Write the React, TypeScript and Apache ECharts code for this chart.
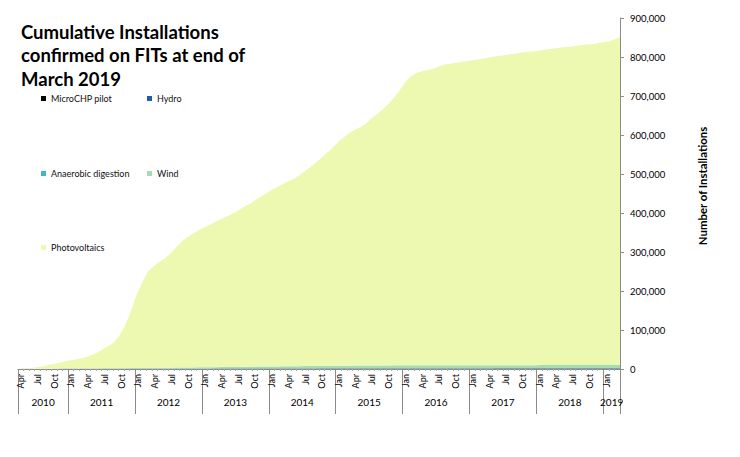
import React, { useEffect, useRef } from 'react';
import * as echarts from 'echarts';

const MONTH_NAMES = ['Jan', 'Feb', 'Mar', 'Apr', 'May', 'Jun', 'Jul', 'Aug', 'Sep', 'Oct', 'Nov', 'Dec'];
const START_YEAR = 2010;
const START_MONTH = 3; // April
const MONTH_COUNT = 108; // Apr 2010 .. Mar 2019

const categories = Array.from({ length: MONTH_COUNT }, (_, i) => {
  const m = START_MONTH + i;
  return `${START_YEAR + Math.floor(m / 12)}-${MONTH_NAMES[m % 12]}`;
});

const years = ['2010', '2011', '2012', '2013', '2014', '2015', '2016', '2017', '2018', '2019'];
const monthsInYear = [9, 12, 12, 12, 12, 12, 12, 12, 12, 3];

const yTicks = [0, 100000, 200000, 300000, 400000, 500000, 600000, 700000, 800000, 900000];

const microCHP = [
  0, 0, 0, 0, 0, 2, 5, 10, 15,
  20, 28, 36, 45, 55, 65, 75, 88, 100, 112, 125, 138,
  150, 160, 170, 180, 190, 200, 210, 218, 226, 234, 242, 250,
  258, 265, 272, 279, 286, 293, 300, 306, 312, 318, 324, 330,
  336, 341, 346, 351, 356, 361, 366, 371, 376, 381, 386, 391,
  396, 400, 404, 408, 412, 416, 420, 424, 428, 432, 436, 440,
  444, 447, 450, 453, 456, 459, 462, 465, 468, 471, 474, 477,
  480, 482, 484, 486, 488, 490, 492, 494, 496, 498, 500, 502,
  504, 505, 506, 507, 508, 509, 510, 511, 512, 513, 514, 515,
  516, 517, 518,
];

const hydro = [
  120, 150, 180, 205, 230, 255, 275, 295, 310,
  330, 345, 360, 380, 395, 410, 430, 445, 465, 480, 500, 520,
  540, 555, 565, 575, 585, 600, 610, 620, 630, 645, 655, 665,
  675, 685, 695, 705, 715, 725, 735, 745, 755, 765, 775, 785,
  795, 805, 815, 825, 835, 845, 855, 865, 875, 885, 895, 905,
  915, 925, 935, 945, 955, 965, 975, 985, 995, 1005, 1015, 1030,
  1045, 1055, 1060, 1065, 1070, 1075, 1080, 1085, 1090, 1095, 1100, 1105,
  1110, 1112, 1114, 1116, 1118, 1120, 1122, 1124, 1126, 1128, 1130, 1132,
  1134, 1136, 1138, 1140, 1142, 1144, 1146, 1148, 1150, 1152, 1154, 1156,
  1158, 1160, 1162,
];

const anaerobic = [
  5, 8, 12, 15, 18, 22, 26, 30, 34,
  38, 42, 46, 50, 55, 60, 65, 70, 75, 80, 86, 92,
  98, 104, 110, 116, 122, 128, 134, 140, 146, 152, 158, 165,
  172, 180, 188, 196, 204, 212, 220, 228, 236, 244, 252, 260,
  268, 276, 284, 292, 300, 308, 316, 324, 332, 340, 348, 356,
  364, 372, 380, 388, 396, 404, 412, 420, 428, 436, 444, 452,
  460, 464, 468, 472, 476, 480, 484, 488, 492, 496, 500, 504,
  506, 508, 510, 512, 514, 516, 518, 520, 522, 524, 526, 528,
  530, 531, 532, 533, 534, 535, 536, 537, 538, 539, 540, 541,
  542, 543, 544,
];

const wind = [
  150, 200, 260, 320, 380, 440, 500, 560, 620,
  680, 740, 800, 860, 920, 990, 1060, 1130, 1200, 1300, 1420, 1550,
  1700, 1850, 2000, 2120, 2240, 2360, 2480, 2600, 2720, 2840, 2960, 3100,
  3250, 3400, 3550, 3700, 3850, 4000, 4150, 4300, 4450, 4600, 4750, 4900,
  5050, 5200, 5350, 5480, 5600, 5720, 5840, 5960, 6080, 6200, 6320, 6450,
  6580, 6700, 6820, 6940, 7060, 7150, 7230, 7300, 7360, 7420, 7480, 7540,
  7580, 7600, 7620, 7630, 7640, 7650, 7660, 7670, 7680, 7690, 7700, 7710,
  7715, 7720, 7725, 7730, 7735, 7740, 7745, 7750, 7755, 7760, 7765, 7770,
  7772, 7774, 7776, 7778, 7780, 7782, 7784, 7786, 7788, 7790, 7792, 7794,
  7796, 7798, 7800,
];

const photovoltaics = [
  500, 700, 1600, 3000, 5400, 8300, 11200, 14100, 17000,
  19900, 22800, 25800, 28700, 33600, 39500, 48400, 56300, 66200, 83000, 107900, 142700,
  185500, 217300, 245200, 259000, 270900, 278700, 291600, 306400, 321300, 333100, 342000, 350800,
  357600, 364500, 372300, 379100, 385900, 391800, 399600, 409400, 416200, 425100, 434900, 442700,
  451600, 459400, 467200, 475100, 479900, 488800, 500600, 510500, 522300, 534200, 547100, 559900,
  575700, 586600, 597500, 606300, 612200, 622100, 636000, 645900, 658800, 672700, 688600, 708500,
  728500, 742400, 750400, 754400, 757400, 761300, 767300, 771300, 773300, 775200, 778200, 780200,
  782200, 784200, 787200, 789200, 792100, 794100, 796100, 798100, 800100, 802100, 804100, 805100,
  807100, 809100, 811100, 813100, 815000, 816000, 818000, 820000, 822000, 823000, 825000, 828000,
  830000, 835000, 841000,
];

const seriesDefs = [
  { name: 'MicroCHP pilot', data: microCHP, color: '#000000' },
  { name: 'Hydro', data: hydro, color: '#225ea8' },
  { name: 'Anaerobic digestion', data: anaerobic, color: '#41b6c4' },
  { name: 'Wind', data: wind, color: '#a6dbb3' },
  { name: 'Photovoltaics', data: photovoltaics, color: '#edf8b1' },
];

const legendPos = [
  { left: 41, top: 94 },
  { left: 147, top: 94 },
  { left: 41, top: 169 },
  { left: 147, top: 169 },
  { left: 41, top: 243 },
];

const FONT = 'Lato, "Open Sans", sans-serif';
const AXIS_GRAY = '#8c8c8c';

export default function App() {
  const ref = useRef<HTMLDivElement>(null);

  useEffect(() => {
    if (!ref.current) return;
    const chart = echarts.init(ref.current, undefined, { renderer: 'svg' });

    // half-month slots for the year row (boundaryGap false => slot k at k/2 months)
    const slotCount = MONTH_COUNT * 2 + 1;
    const slotKeys = Array.from({ length: slotCount }, (_, k) => 's' + k);
    const yearLabelAt: Record<number, string> = {};
    const boundaryAt: Record<number, boolean> = { [slotCount - 1]: true };
    let start = 0;
    years.forEach((y, i) => {
      yearLabelAt[2 * start + monthsInYear[i]] = y;
      boundaryAt[2 * start] = true;
      start += monthsInYear[i];
    });

    chart.setOption({
      animation: false,
      textStyle: { fontFamily: FONT },
      title: {
        text: 'Cumulative Installations\nconfirmed on FITs at end of\nMarch 2019',
        left: 21,
        top: 20,
        padding: 0,
        textStyle: { fontFamily: FONT, fontSize: 18.5, fontWeight: 'bold', color: '#000', lineHeight: 23.5 },
      },
      legend: seriesDefs.map((s, i) => ({
        data: [s.name],
        left: legendPos[i].left,
        top: legendPos[i].top,
        padding: 0,
        icon: 'rect',
        itemWidth: 5,
        itemHeight: 5,
        selectedMode: false,
        textStyle: { fontFamily: FONT, fontSize: 9, color: '#111' },
      })),
      grid: { left: 18, right: 120, top: 18, bottom: 88, containLabel: false },
      xAxis: [
        {
          type: 'category',
          data: categories,
          boundaryGap: true,
          position: 'bottom',
          axisLine: { show: true, lineStyle: { color: AXIS_GRAY, width: 1 } },
          axisTick: { show: true, interval: 0, length: 2, lineStyle: { color: '#aaa' } },
          axisLabel: {
            interval: 2,
            rotate: 90,
            margin: 5,
            fontSize: 9,
            color: '#000',
            fontFamily: FONT,
            formatter: (v: string) => v.split('-')[1],
          },
          splitLine: { show: false },
        },
        {
          type: 'category',
          data: slotKeys,
          boundaryGap: false,
          position: 'bottom',
          axisLine: { show: false },
          axisTick: {
            show: true,
            length: 45,
            interval: (idx: number) => !!boundaryAt[idx],
            lineStyle: { color: AXIS_GRAY },
          },
          axisLabel: {
            interval: 0,
            margin: 28,
            fontSize: 10,
            color: '#000',
            fontFamily: FONT,
            formatter: (_v: string, idx: number) => yearLabelAt[idx] || '',
          },
          splitLine: { show: false },
        },
        {
          type: 'category',
          data: categories,
          boundaryGap: false,
          show: false,
        },
      ],
      yAxis: {
        type: 'value',
        position: 'right',
        min: 0,
        max: 900000,
        interval: 100000,
        name: 'Number of Installations',
        nameLocation: 'middle',
        nameRotate: 90,
        nameGap: 77,
        nameTextStyle: { fontFamily: FONT, fontSize: 11.4, fontWeight: 'bold', color: '#000', padding: [0, 0, 0, 15] },
        axisLine: { show: true, lineStyle: { color: AXIS_GRAY } },
        axisTick: { show: true, length: 4, lineStyle: { color: AXIS_GRAY } },
        axisLabel: {
          margin: 10,
          fontSize: 9.5,
          color: '#000',
          fontFamily: FONT,
          formatter: (v: number) => (yTicks.includes(v) ? v.toLocaleString('en-US') : ''),
        },
        splitLine: { show: false },
      },
      series: seriesDefs.map((s) => ({
        name: s.name,
        type: 'line',
        xAxisIndex: 2,
        stack: 'total',
        data: s.data,
        symbol: 'none',
        lineStyle: { width: 0 },
        itemStyle: { color: s.color },
        areaStyle: { color: s.color, opacity: 1 },
      })),
    });

    return () => chart.dispose();
  }, []);

  return <div ref={ref} style={{ position: 'absolute', left: 0, top: 0, width: 740, height: 457 }} />;
}
